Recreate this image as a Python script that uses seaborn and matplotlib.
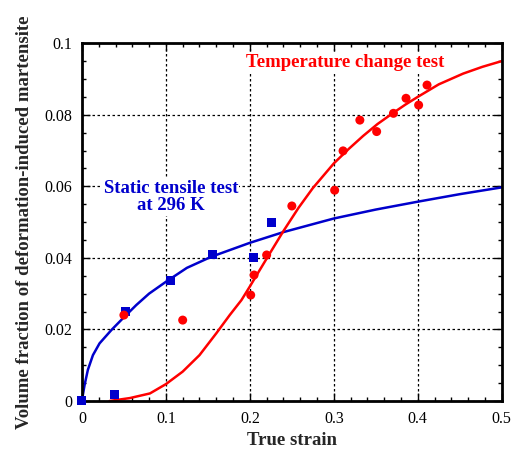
import numpy as np
import pandas as pd
import seaborn as sns
import matplotlib.pyplot as plt
from matplotlib.ticker import MultipleLocator

# measured points
static_x = [0.0, 0.039, 0.052, 0.105, 0.155, 0.204, 0.226]
static_y = [0.0, 0.0017, 0.0249, 0.0338, 0.0408, 0.040, 0.050]

temp_x = [0.05, 0.12, 0.201, 0.205, 0.22, 0.25, 0.301, 0.311, 0.331, 0.351, 0.371, 0.386, 0.401, 0.411]
temp_y = [0.024, 0.0226, 0.0296, 0.0352, 0.0408, 0.0545, 0.0589, 0.0699, 0.0785, 0.0753, 0.0804, 0.0846, 0.0827, 0.0883]

# fitted curves
static_fit_x = [0.0, 0.0012, 0.0032, 0.0071, 0.0131, 0.021, 0.035, 0.0488, 0.0647, 0.08, 0.1, 0.125,
                0.154, 0.2, 0.24, 0.3, 0.35, 0.4, 0.45, 0.5]
static_fit_y = [0.0, 0.0018, 0.0045, 0.0087, 0.0128, 0.0161, 0.0198, 0.0231, 0.0268, 0.0300, 0.0333, 0.0372,
                0.0403, 0.0442, 0.0472, 0.051, 0.0535, 0.0557, 0.0578, 0.0597]

temp_fit_x = [0.033, 0.045, 0.057, 0.081, 0.1, 0.12, 0.14, 0.16, 0.176, 0.19, 0.2, 0.22, 0.24, 0.258, 0.275,
              0.3, 0.318, 0.335, 0.352, 0.37, 0.385, 0.4, 0.425, 0.454, 0.477, 0.5]
temp_fit_y = [0.0, 0.0004, 0.0008, 0.0021, 0.0047, 0.0082, 0.0128, 0.0189, 0.024, 0.0282, 0.032, 0.0398, 0.0475,
              0.054, 0.0595, 0.0664, 0.0705, 0.0741, 0.0774, 0.0804, 0.0828, 0.085, 0.0885, 0.0915, 0.0934, 0.095]

blue = "#0000CC"
red = "#FF0000"

sns.set_style("ticks")
plt.rcParams['font.family'] = ['Liberation Serif', 'DejaVu Serif']

fig = plt.figure(figsize=(5.12, 4.5), dpi=100)
ax = fig.add_axes([0.160, 0.109, 0.820, 0.795])

sns.lineplot(x=static_fit_x, y=static_fit_y, color=blue, lw=1.8, sort=False, estimator=None, ax=ax)
sns.lineplot(x=temp_fit_x, y=temp_fit_y, color=red, lw=1.8, sort=False, estimator=None, ax=ax)
sns.scatterplot(x=static_x, y=static_y, color=blue, marker="s", s=42, edgecolor="none", ax=ax, clip_on=False, zorder=5)
sns.scatterplot(x=temp_x, y=temp_y, color=red, marker="o", s=42, edgecolor="none", ax=ax, clip_on=False, zorder=5)

ax.set_xlim(0, 0.5)
ax.set_ylim(0, 0.1)
ax.set_xticks([0, 0.1, 0.2, 0.3, 0.4, 0.5])
ax.set_xticklabels(["0", "0.1", "0.2", "0.3", "0.4", "0.5"])
ax.set_yticks([0, 0.02, 0.04, 0.06, 0.08, 0.1])
ax.set_yticklabels(["0", "0.02", "0.04", "0.06", "0.08", "0.1"])
ax.xaxis.set_minor_locator(MultipleLocator(0.02))
ax.yaxis.set_minor_locator(MultipleLocator(0.005))

ax.tick_params(which="both", direction="in", top=True, right=True, width=1, colors="black")
ax.tick_params(which="major", length=6, labelsize=11.5, pad=7)
ax.tick_params(which="minor", length=3)
for sp in ax.spines.values():
    sp.set_linewidth(2)
    sp.set_color("black")

ax.grid(True, which="major", linestyle=(0, (2, 2)), color="black", lw=0.9)
ax.set_axisbelow(True)

ax.set_xlabel("True strain", fontsize=13.5, fontweight="bold", labelpad=4)
ax.set_ylabel("Volume fraction of deformation-induced martensite", fontsize=13.5, fontweight="bold", labelpad=8)

box = dict(facecolor="white", edgecolor="none", pad=1)
ax.text(0.313, 0.0947, "Temperature change test", color=red, fontsize=13.5, fontweight="bold",
        ha="center", va="center", bbox=box, zorder=3)
ax.text(0.106, 0.057, "Static tensile test\nat 296 K", color=blue, fontsize=13.5, fontweight="bold",
        ha="center", va="center", linespacing=1.05, bbox=box, zorder=3)

fig.savefig("out.png", dpi=100)
